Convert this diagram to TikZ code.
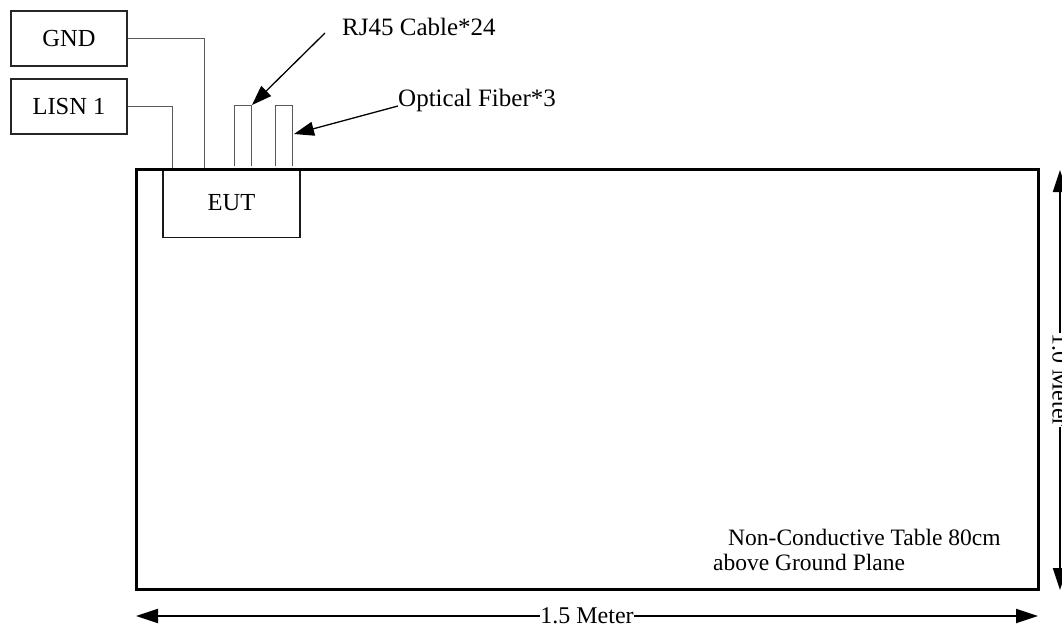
\documentclass[tikz,border=0pt]{standalone}
\usepackage{fontspec}
\setmainfont{Liberation Serif}
\usepackage{tikz}
\usetikzlibrary{arrows.meta, positioning}
\tikzset{
  %% -- side boxes (GND, LISN) --
  TS/box/.style={
    draw=black!85, line width=1.3pt, inner sep=0pt,
    minimum width=116pt, minimum height=55pt,
    font=\fontsize{24.5}{26}\selectfont
  },
  %% -- equipment under test --
  TS/eut/.style={
    draw=black!90, line width=1.3pt, inner sep=0pt,
    minimum width=137pt, minimum height=69pt,
    font=\fontsize{24.5}{26}\selectfont
  },
  %% -- table outline --
  TS/table/.style={
    draw=black, line width=3pt, inner sep=0pt,
    minimum width=902pt, minimum height=420pt
  },
  %% -- thin cable / wire --
  TS/wire/.style={draw=black!65, line width=1pt},
  %% -- label pointer arrow --
  TS/ptr/.style={-{Triangle[length=20pt, width=14pt]}, line width=1.3pt},
  %% -- dimension arrow --
  TS/dim/.style={{Triangle[length=22pt, width=14pt]}-{Triangle[length=22pt, width=14pt]}, line width=2.2pt},
  %% -- plain label --
  TS/lbl/.style={inner sep=0pt, font=\fontsize{25}{27}\selectfont},
  %% -- dimension label --
  TS/dimlbl/.style={fill=white, inner sep=0.5pt, text height=15pt, text depth=0pt,
    font=\fontsize{24}{26}\selectfont},
}

\begin{document}
\begin{tikzpicture}[
  every node/.style={font=\fontsize{23.5}{25}\selectfont},
  x=1pt, y=-1pt,
]
\useasboundingbox (0,0) rectangle (1062,625);

%% ━━━━━━━━━━━━━━━━━━━━━━━━━━━━━━━━━━━━━━━━━━━━━━━━━━━━━━━━━━━
%%  TABLE AND EUT
%% ━━━━━━━━━━━━━━━━━━━━━━━━━━━━━━━━━━━━━━━━━━━━━━━━━━━━━━━━━━━
\node[TS/eut] (eut) at (231.5,203) {EUT};
\node[TS/table] (table) at (587,379) {};

%% Table note
\node[inner sep=0pt, align=left, anchor=north west] (tblnote) at (713,529)
  {\hspace{15pt}Non-Conductive Table 80cm\\above Ground Plane};

%% ━━━━━━━━━━━━━━━━━━━━━━━━━━━━━━━━━━━━━━━━━━━━━━━━━━━━━━━━━━━
%%  GND AND LISN
%% ━━━━━━━━━━━━━━━━━━━━━━━━━━━━━━━━━━━━━━━━━━━━━━━━━━━━━━━━━━━
\node[TS/box] (gnd)  at (69,38.5)  {GND};
\node[TS/box] (lisn) at (69,106.5) {LISN 1};

\coordinate (gndpin)  at (204,168);
\coordinate (lisnpin) at (172,168);

\draw[TS/wire] (gnd.east)  -| (gndpin);
\draw[TS/wire] (lisn.east) -| (lisnpin);

%% Cable stubs on top of the EUT
\draw[TS/wire] (234,166) |- (251,105) -- (251,166);
\draw[TS/wire] (275,166) |- (292,105) -- (292,166);

%% ━━━━━━━━━━━━━━━━━━━━━━━━━━━━━━━━━━━━━━━━━━━━━━━━━━━━━━━━━━━
%%  CABLE LABELS
%% ━━━━━━━━━━━━━━━━━━━━━━━━━━━━━━━━━━━━━━━━━━━━━━━━━━━━━━━━━━━
\node[TS/lbl, anchor=base west] (rjlbl) at (342,35) {RJ45 Cable*24};
\node[TS/lbl, anchor=base west] (oflbl) at (398,106) {Optical Fiber*3};

\coordinate (rjtail) at (325,33);
\coordinate (rjtip)  at (252,105);
\coordinate (oftip)  at (294,134);

\draw[TS/ptr] (rjtail) -- (rjtip);
\draw[TS/ptr] (oflbl.base west) -- (oftip);

%% ━━━━━━━━━━━━━━━━━━━━━━━━━━━━━━━━━━━━━━━━━━━━━━━━━━━━━━━━━━━
%%  DIMENSIONS
%% ━━━━━━━━━━━━━━━━━━━━━━━━━━━━━━━━━━━━━━━━━━━━━━━━━━━━━━━━━━━
\coordinate (hleft)  at (136,616);
\coordinate (hright) at (1038,616);
\draw[TS/dim] (hleft) -- (hright)
  node[TS/dimlbl, midway] (hlen) {1.5 Meter};

\coordinate (vtop) at (1060,170);
\coordinate (vbot) at (1060,590);
\draw[TS/dim] (vtop) -- (vbot)
  node[TS/dimlbl, midway, rotate=-90] (vlen) {1.0 Meter};

\end{tikzpicture}
\end{document}
